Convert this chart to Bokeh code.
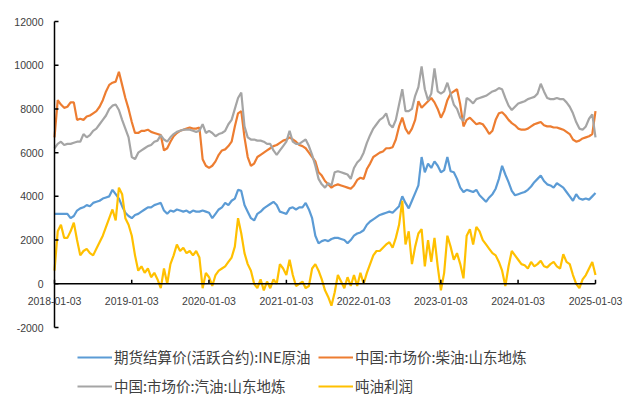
import math
import pandas as pd
from bokeh.plotting import figure
from bokeh.models import Range1d, Legend, LegendItem, ColumnDataSource
from bokeh.core.properties import value
from bokeh.embed import file_html
from bokeh.resources import INLINE

# ---- data (semi-monthly readings, 2018-01-03 .. 2025-01-03) ----
date_start = "2018-01-03"
date_end = "2025-01-03"
n_points = 169

ine_crude = [3200, 3200, 3200, 3200, 3200, 3000, 3100, 3350, 3450, 3500, 3600, 3550, 3700, 3750, 3800, 3900, 3950, 4000, 4300, 4100, 3900, 3550, 3250, 3100, 3000, 3150, 3200,
             3300, 3400, 3500, 3500, 3600, 3650, 3700, 3350, 3200, 3350, 3300, 3400, 3350, 3300, 3350, 3250, 3350, 3300, 3300, 3350, 3300, 3250, 3000, 3200, 3400, 3500, 3700, 3600,
             3800, 3900, 4300, 4250, 3600, 3300, 3000, 2900, 3200, 3300, 3450, 3550, 3650, 3750, 3600, 3300, 3250, 3200, 3450, 3500, 3400, 3500, 3500, 3700, 3400, 3000, 2200,
             1850, 1950, 2000, 1950, 2050, 2100, 2100, 2050, 2000, 1850, 2000, 2200, 2300, 2350, 2450, 2700, 2850, 2950, 3050, 3150, 3200, 3250, 3300, 3250, 3400, 3550,
             4000, 3700, 3450, 3800, 4150, 4500, 5800, 5100, 5500, 5300, 5600, 5400, 5100, 5200, 5800, 5150, 5100, 4800, 4400, 4200,
             4300, 4250, 4200, 4300, 4050, 3900, 3750, 3950, 4100, 4350, 4800, 5400, 5000, 4650, 4250, 4050, 4100, 4150, 4200, 4300,
             4450, 4650, 4800, 4950, 4700, 4550, 4500, 4400, 4600, 4500, 4400, 4200, 4000, 3800, 4100, 3900, 3850, 3900, 3850, 4000, 4150]

diesel_sd = [6700, 8400, 8200, 8050, 8100, 8300, 8300, 7500, 7550, 7500, 7650, 7700, 7800, 7900, 8100, 8400, 8800, 9100, 9200, 9250, 9700, 9100, 8500, 8000, 7400, 6900, 6900,
             7000, 7000, 7050, 6950, 6900, 6850, 6800, 6100, 6200, 6500, 6750, 6900, 7000, 7050, 7100, 7150, 7100, 7100, 7150, 5700, 5400, 5300, 5400, 5600, 5900, 6100, 6150, 6300,
             6500, 7200, 7800, 7900, 6700, 5800, 5400, 5500, 5800, 5900, 6000, 6100, 6200, 6300, 6350, 6450, 6550, 6600, 6700, 6600, 6500, 6350, 6300, 6200, 6000, 5800, 5600,
             5100, 4950, 4700, 4550, 4400, 4500, 4550, 4500, 4450, 4400, 4350, 4500, 4750, 4850, 4800, 5250, 5500, 5800, 5900, 6000, 6050, 6200, 6200, 6250, 6600, 7200,
             7600, 7100, 6850, 7100, 7500, 8350, 8050, 8200, 8350, 8500, 8300, 8000, 7600, 7900, 8400, 8700, 8800, 8900, 8200, 7200,
             7500, 7600, 7450, 7300, 7350, 7300, 7100, 6850, 7000, 7500, 7800, 7850, 7700, 7500, 7350, 7250, 7100, 7050, 7050, 7100,
             7200, 7300, 7350, 7400, 7250, 7200, 7200, 7150, 7150, 7100, 7050, 6950, 6850, 6600, 6500, 6550, 6650, 6700, 6750, 6850, 7900]

gasoline_sd = [6200, 6400, 6500, 6350, 6400, 6400, 6450, 6500, 6500, 6850, 6700, 6800, 7000, 7100, 7300, 7500, 7700, 8000, 8150, 8200, 7950, 7500, 7100, 6700, 5800, 5700, 6000,
               6100, 6200, 6300, 6350, 6500, 6550, 6800, 6600, 6500, 6700, 6850, 6950, 7000, 7050, 7050, 7050, 7000, 6950, 7000, 7300, 6900, 7000, 6900, 6750, 6850, 6900, 7000, 7300,
               7500, 8000, 8500, 8750, 7200, 6700, 6600, 6600, 6550, 6550, 6500, 6400, 6400, 6100, 5900, 6100, 6300, 6500, 7000, 6500, 6400, 6400, 6500, 6600, 6300, 5900, 5400,
               4800, 4550, 4400, 4600, 4500, 5100, 5150, 5100, 5050, 5000, 4800, 5300, 5550, 5700, 6000, 6450, 6800, 7100, 7300, 7500, 7600, 7800, 7300, 7150, 7500, 8200,
               8900, 7900, 7900, 8000, 8600, 9000, 9950, 8900, 8400, 8700, 9850, 8800, 8700, 8800, 9200, 8700, 8200, 8000, 7600, 7450,
               8500, 8400, 8250, 8450, 8500, 8550, 8600, 8700, 8800, 8850, 8950, 8900, 8500, 8150, 7950, 8100, 8250, 8300, 8350, 8450,
               8500, 8550, 8700, 9150, 8800, 8500, 8450, 8450, 8500, 8450, 8450, 8300, 8100, 7800, 7400, 7100, 7050, 7200, 7550, 7750, 6700]

profit = [600, 2400, 2700, 2100, 2100, 2400, 2800, 2000, 1300, 1500, 1600, 1400, 1300, 1600, 1900, 2200, 2600, 3000, 3400, 2900, 4400, 4100, 3000, 2700, 2200, 1300, 600,
          800, 500, 700, 300, 500, 200, -200, 700, 0, 900, 1300, 1800, 1500, 1650, 1400, 1500, 1300, 1500, 1200, -200, 500, 300, -100, 400, 600, 700, 800, 1000,
          1200, 1700, 3000, 2300, 1400, 900, 600, 0, -200, 200, -300, 100, -200, 200, 0, 900, 700, 400, 1100, 400, -100, 0, 100, -200, -100, 700, 900,
          600, 200, -300, -600, -1000, -400, 400, 100, -200, 300, -100, 400, -100, 500, 0, 500, 900, 1300, 1500, 1500, 1650, 1800, 1900, 1650, 2100, 2700,
          3800, 1800, 2400, 900, 1700, 2300, 2500, 800, 2000, 1000, 2100, 800, -300, 500, 2200, 1700, 1100, 1400, 900, 250,
          2200, 2500, 1800, 2600, 2400, 2000, 1800, 1600, 1400, 1300, 1000, 600, -100, 800, 1500, 1300, 1100, 900, 850, 700,
          1000, 800, 900, 1050, 800, 750, 900, 1000, 800, 700, 1350, 1000, 900, 400, 0, -200, 200, 400, 700, 1000, 400]

series_names = ["期货结算价(活跃合约):INE原油", "中国:市场价:柴油:山东地炼",
                "中国:市场价:汽油:山东地炼", "吨油利润"]
series_colors = ["#5B9BD5", "#ED7D31", "#A5A5A5", "#FFC000"]

x_tick_labels = ["2018-01-03", "2019-01-03", "2020-01-03", "2021-01-03",
                 "2022-01-03", "2023-01-03", "2024-01-03", "2025-01-03"]
y_ticks = [-2000, 0, 2000, 4000, 6000, 8000, 10000, 12000]
y_min, y_max = -2000, 12000

# ---- layout (pixels) ----
W, H = 625, 398
ax_left_px, ax_right_px = 54, 595      # pixel of first / last date
ax_top_px, ax_bottom_px = 21, 327      # pixel of y_max / y_min

def ms(s):
    return float(pd.Timestamp(s).value // 10**6)

x_ticks = [ms(t) for t in x_tick_labels]
x0, x1 = x_ticks[0], x_ticks[-1]
xs = (x1 - x0) / (ax_right_px - ax_left_px)
ys = (y_max - y_min) / (ax_bottom_px - ax_top_px)
x_range = Range1d(x0 - ax_left_px * xs, x1 + (W - ax_right_px) * xs)
y_range = Range1d(y_min - (H - ax_bottom_px) * ys, y_max + ax_top_px * ys)

dates = pd.date_range(date_start, date_end, periods=n_points)
src = ColumnDataSource(dict(x=dates, s0=ine_crude, s1=diesel_sd, s2=gasoline_sd, s3=profit))

p = figure(width=W, height=H, output_backend="svg", toolbar_location=None,
           x_range=x_range, y_range=y_range, x_axis_location=None, y_axis_location=None,
           min_border=0)
p.outline_line_color = None
p.xgrid.visible = False
p.ygrid.visible = False
p.background_fill_color = "white"
p.border_fill_color = "white"

renderers = []
for i, col in enumerate(["s0", "s1", "s2", "s3"]):
    r = p.line(x="x", y=col, source=src, line_color=series_colors[i], line_width=2.2)
    renderers.append(r)

# axes drawn from the axis data
p.segment(x0=[x0], y0=[y_min], x1=[x0], y1=[y_max], line_color="black", line_width=1.5)
p.segment(x0=[x0], y0=[0], x1=[x1], y1=[0], line_color="black", line_width=1.5)
p.ray(x=x_ticks, y=[0] * len(x_ticks), length=4, length_units="screen",
      angle=math.pi / 2, line_color="black", line_width=1.5)
p.ray(x=[x0] * len(y_ticks), y=y_ticks, length=4, length_units="screen",
      angle=0, line_color="black", line_width=1.5)

p.text(x=x_ticks, y=[0] * len(x_ticks), text=x_tick_labels, y_offset=17,
       text_align="center", text_baseline="middle", text_font=value("Liberation Sans"),
       text_font_size="10.5px", text_color="#404040")
p.text(x=[x0] * len(y_ticks), y=y_ticks, text=[str(v) for v in y_ticks], x_offset=-11,
       text_align="right", text_baseline="middle", text_font=value("Liberation Sans"),
       text_font_size="10.5px", text_color="#404040")

def make_legend(idx, loc):
    return Legend(items=[LegendItem(label=series_names[i], renderers=[renderers[i]]) for i in idx],
                  orientation="vertical", location=loc,
                  glyph_width=35, glyph_height=20, label_height=20, label_standoff=2,
                  spacing=8, padding=0, margin=0, border_line_color=None, background_fill_alpha=0,
                  label_text_font="Noto Sans CJK SC", label_text_font_size="14.5px",
                  label_text_color="#404040")

p.add_layout(make_legend([0, 2], (77, 2)), "center")
p.add_layout(make_legend([1, 3], (318, 2)), "center")

open("out.html", "w").write(file_html(p, INLINE))
